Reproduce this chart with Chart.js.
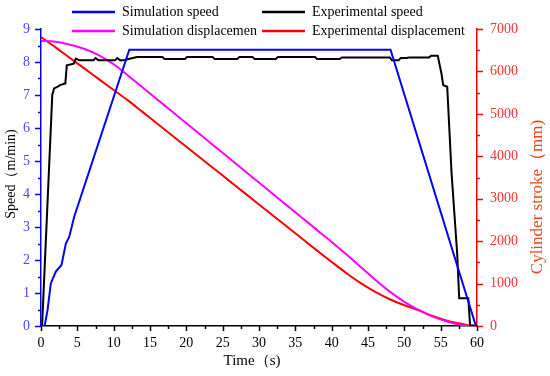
<!DOCTYPE html>
<html><head><meta charset="utf-8">
<script src="https://cdn.jsdelivr.net/npm/chart.js@4/dist/chart.umd.min.js"></script>
<style>html,body{margin:0;padding:0;background:#fff}#wrap{width:550px;height:376px;position:relative}</style>
</head><body><div id="wrap"><canvas id="c" width="550" height="376"></canvas></div>
<script>
// ---- data ----
const simSpeedT = [0, 0.5, 0.9, 1.35, 2.04, 2.82, 3.42, 3.88, 4.57, 12.15, 48.1, 59.85, 60];
const simSpeedV = [0, 0, 0.48, 1.29, 1.65, 1.85, 2.5, 2.7, 3.31, 8.37, 8.37, 0, 0];

const expSpeedT = [0, 0.15, 1.55, 1.8, 2.3, 2.6, 3.35, 3.55, 4.5, 4.8, 5.3, 7.2, 7.5, 7.9, 10.2, 10.5, 10.9, 11.5, 12.2, 13.2, 16.7, 17.0, 19.8, 20.1, 23.6, 23.9, 27.0, 27.3, 29.1, 29.4, 32.3, 32.6, 37.7, 38.0, 41.1, 41.4, 48.0, 48.3, 49.2, 49.5, 50.3, 50.7, 53.4, 53.7, 54.6, 55.1, 55.35, 55.9, 56.5, 57.27, 57.55, 58.8, 59.05, 60];
const expSpeedV = [0, 0, 7.0, 7.2, 7.25, 7.3, 7.35, 7.9, 7.95, 8.1, 8.05, 8.05, 8.12, 8.05, 8.05, 8.12, 8.05, 8.06, 8.1, 8.15, 8.15, 8.09, 8.09, 8.15, 8.15, 8.09, 8.09, 8.15, 8.15, 8.09, 8.09, 8.15, 8.15, 8.09, 8.09, 8.14, 8.14, 8.05, 8.05, 8.12, 8.12, 8.14, 8.14, 8.19, 8.19, 7.66, 7.3, 7.25, 4.63, 2.2, 0.84, 0.84, 0.02, 0];

const simDispT = [0, 2, 4, 6, 8, 10, 12, 14, 16, 18, 20, 22, 24, 26, 28, 30, 32, 34, 36, 38, 40, 42, 44, 46, 48, 50, 52, 54, 56, 58, 60];
const simDispV = [6720, 6700, 6630, 6530, 6380, 6170, 5900, 5620, 5340, 5060, 4780, 4500, 4220, 3940, 3660, 3380, 3100, 2820, 2540, 2260, 1980, 1690, 1390, 1090, 810, 570, 375, 215, 100, 25, 0];

const expDispT = [0, 2, 4, 6, 8, 10, 12, 14, 16, 18, 20, 22, 24, 26, 28, 30, 32, 34, 36, 38, 40, 42, 44, 46, 48, 50, 52, 54, 56, 58, 59.5, 60];
const expDispV = [6810, 6567, 6316, 6065, 5813, 5562, 5311, 5041, 4769, 4497, 4225, 3953, 3681, 3409, 3137, 2865, 2593, 2321, 2049, 1777, 1510, 1250, 1010, 805, 630, 490, 370, 230, 120, 45, 0, 0];

const leftTicks = [0, 1, 2, 3, 4, 5, 6, 7, 8, 9];
const rightTicks = [0, 1000, 2000, 3000, 4000, 5000, 6000, 7000];
const xTicks = [0, 5, 10, 15, 20, 25, 30, 35, 40, 45, 50, 55, 60];

const labels = ["Simulation speed", "Experimental speed", "Simulation displacemen", "Experimental displacement"];

const pts = (t, v) => t.map((x, i) => ({x: x, y: v[i]}));
const FONT = "'Liberation Serif', 'Times New Roman', serif";
Chart.defaults.font.family = FONT;

const tickPlugin = {
  id: 'ticksAndLegend',
  afterDraw(chart) {
    const ctx = chart.ctx;
    const sx = chart.scales.x, sy = chart.scales.y, sy1 = chart.scales.y1;
    ctx.save();
    ctx.strokeStyle = '#0000ff'; ctx.lineWidth = 1.5;
    for (let v = 0; v <= 9.001; v += 0.5) {
      const p = Math.round(sy.getPixelForValue(v)) + 0.5;
      const len = (Math.abs(v - Math.round(v)) < 1e-6) ? 6 : 3;
      ctx.beginPath(); ctx.moveTo(sy.right, p); ctx.lineTo(sy.right - len, p); ctx.stroke();
    }
    ctx.strokeStyle = '#ff0000';
    for (let v = 0; v <= 7000.1; v += 500) {
      const p = Math.round(sy1.getPixelForValue(v)) + 0.5;
      const len = (v % 1000 === 0) ? 6 : 3;
      ctx.beginPath(); ctx.moveTo(sy1.left, p); ctx.lineTo(sy1.left + len, p); ctx.stroke();
    }
    ctx.strokeStyle = '#000000';
    for (let v = 0; v <= 60.01; v += 2.5) {
      const p = Math.round(sx.getPixelForValue(v)) + 0.5;
      const len = (v % 5 === 0) ? 5 : 3;
      ctx.beginPath(); ctx.moveTo(p, sx.top); ctx.lineTo(p, sx.top + len); ctx.stroke();
    }
    ctx.textAlign = 'center'; ctx.textBaseline = 'middle';
    ctx.fillStyle = '#000';
    ctx.font = '15px ' + FONT;
    ctx.fillText('Time（s)', 252, 361);
    ctx.font = '14px ' + FONT;
    ctx.save(); ctx.translate(11, 174); ctx.rotate(-Math.PI / 2);
    ctx.fillText('Speed（m/min)', 0, 0); ctx.restore();
    ctx.font = '17px ' + FONT;
    ctx.save(); ctx.translate(538, 197); ctx.rotate(-Math.PI / 2);
    ctx.fillStyle = '#e64a19';
    ctx.fillText('Cylinder stroke（mm)', 0, 0); ctx.restore();
    const ds = chart.data.datasets;
    const pos = [[72, 12], [262, 12], [72, 31], [262, 31]];
    ctx.font = '14px ' + FONT; ctx.textAlign = 'left'; ctx.fillStyle = '#000';
    ds.forEach((d, i) => {
      const [lx, ly] = pos[i];
      ctx.strokeStyle = d.borderColor; ctx.lineWidth = 2.5;
      ctx.beginPath(); ctx.moveTo(lx, ly); ctx.lineTo(lx + 43, ly); ctx.stroke();
      ctx.fillText(d.label, lx + 50, ly);
    });
    ctx.restore();
  }
};

new Chart(document.getElementById('c'), {
  type: 'line',
  data: {
    datasets: [
      {label: labels[0], data: pts(simSpeedT, simSpeedV), yAxisID: 'y', borderColor: '#0000ff', borderWidth: 2, pointRadius: 0, tension: 0},
      {label: labels[1], data: pts(expSpeedT, expSpeedV), yAxisID: 'y', borderColor: '#000000', borderWidth: 2, pointRadius: 0, tension: 0},
      {label: labels[2], data: pts(simDispT, simDispV), yAxisID: 'y1', borderColor: '#ff00ff', borderWidth: 2, pointRadius: 0, cubicInterpolationMode: 'monotone'},
      {label: labels[3], data: pts(expDispT, expDispV), yAxisID: 'y1', borderColor: '#ff0000', borderWidth: 2, pointRadius: 0, cubicInterpolationMode: 'monotone'}
    ]
  },
  options: {
    responsive: false, animation: false, events: [],
    layout: {padding: {top: 29, left: 0, right: 0, bottom: 0}},
    plugins: {legend: {display: false}, tooltip: {enabled: false}},
    scales: {
      x: {
        type: 'linear', min: 0, max: 60,
        afterFit: s => { s.height = 50; },
        afterBuildTicks: s => { s.ticks = xTicks.map(v => ({value: v})); },
        grid: {display: true, drawOnChartArea: false, drawTicks: false},
        border: {display: true, color: '#000', width: 1.5},
        ticks: {color: '#000', font: {family: FONT, size: 14}, padding: 9, maxRotation: 0, callback: v => String(v)}
      },
      y: {
        type: 'linear', position: 'left', min: 0, max: 9,
        afterFit: s => { s.width = 41; },
        afterBuildTicks: s => { s.ticks = leftTicks.map(v => ({value: v})); },
        grid: {display: true, drawOnChartArea: false, drawTicks: false},
        border: {display: true, color: '#0000ff', width: 1.5},
        ticks: {color: '#4747ff', font: {family: FONT, size: 14}, padding: 11, callback: v => String(v)}
      },
      y1: {
        type: 'linear', position: 'right', min: 0, max: 7000,
        afterFit: s => { s.width = 73; },
        afterBuildTicks: s => { s.ticks = rightTicks.map(v => ({value: v})); },
        grid: {display: true, drawOnChartArea: false, drawTicks: false},
        border: {display: true, color: '#ff0000', width: 1.5},
        ticks: {color: '#ff3030', font: {family: FONT, size: 14}, padding: 13, callback: v => String(v)}
      }
    }
  },
  plugins: [tickPlugin]
});
</script></body></html>
